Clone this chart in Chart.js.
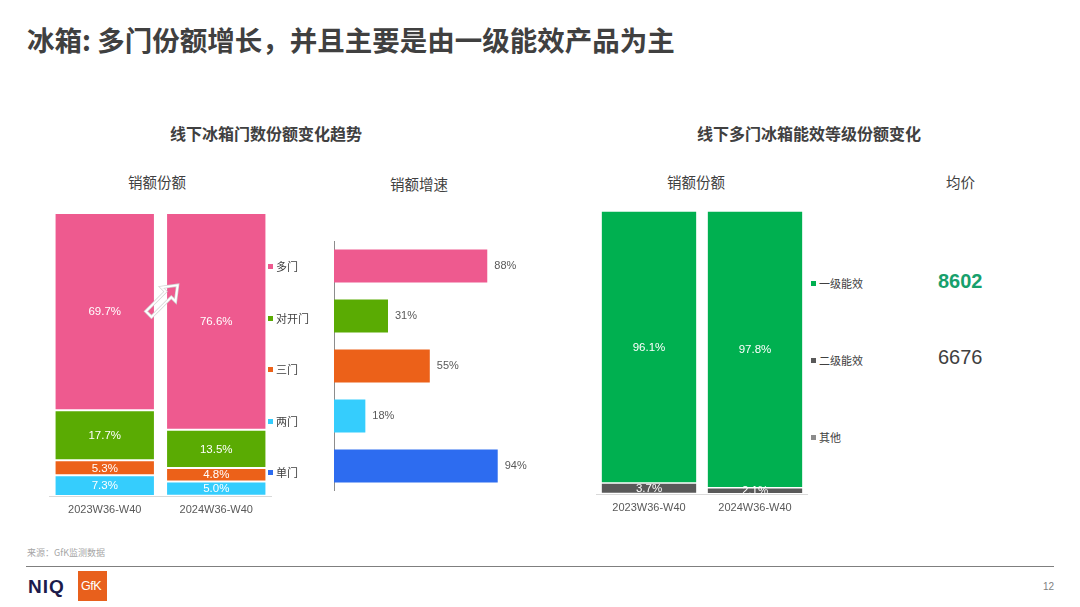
<!DOCTYPE html>
<html><head><meta charset="utf-8">
<script src="https://cdn.jsdelivr.net/npm/chart.js@4/dist/chart.umd.min.js"></script>
<style>
html,body{margin:0;padding:0;background:#fff;}
body{width:1080px;height:607px;position:relative;overflow:hidden;font-family:"Liberation Sans","Noto Sans CJK SC",sans-serif;color:#404040;}
.t{position:absolute;white-space:nowrap;line-height:1;}
.cjk{font-family:"Noto Sans CJK SC","Liberation Sans",sans-serif;}
.box{position:absolute;}
.leg{position:absolute;font-size:11px;line-height:12px;color:#404040;font-family:"Noto Sans CJK SC",sans-serif;white-space:nowrap;}
.leg i{display:inline-block;width:5px;height:5px;margin-right:3px;vertical-align:2px;}
</style></head>
<body>
<div class="t cjk" style="left:27px;top:26px;font-size:27.5px;font-weight:bold;color:#404040;">冰箱: 多门份额增长，并且主要是由一级能效产品为主</div>

<div class="t cjk" style="left:170px;top:125px;font-size:16px;font-weight:bold;color:#404040;">线下冰箱门数份额变化趋势</div>
<div class="t cjk" style="left:128px;top:175px;font-size:14.5px;color:#404040;">销额份额</div>
<div class="t cjk" style="left:390px;top:177px;font-size:14.5px;color:#404040;">销额增速</div>

<div class="t cjk" style="left:697px;top:125px;font-size:16px;font-weight:bold;color:#404040;">线下多门冰箱能效等级份额变化</div>
<div class="t cjk" style="left:667px;top:175px;font-size:14.5px;color:#404040;">销额份额</div>
<div class="t cjk" style="left:946px;top:175px;font-size:14.5px;color:#404040;">均价</div>

<div class="box" style="left:49px;top:213px;width:223px;height:307px;"><canvas id="c1"></canvas></div>
<div class="box" style="left:332px;top:241px;width:211px;height:250px;"><canvas id="c2"></canvas></div>
<div class="box" style="left:596px;top:211px;width:212px;height:307px;"><canvas id="c3"></canvas></div>

<div id="leg1"></div>
<div id="leg3"></div>

<div class="t" style="left:938px;top:271px;font-size:20px;font-weight:bold;color:#17a06c;" id="p1"></div>
<div class="t" style="left:938px;top:347px;font-size:20px;color:#404040;" id="p2"></div>

<div class="t cjk" style="left:27px;top:548px;font-size:9px;color:#a6a6a6;">来源：GfK监测数据</div>
<div class="box" style="left:26px;top:566px;width:1028px;height:1px;background:#7f7f7f;"></div>
<div class="t" style="left:28px;top:577px;font-size:19px;font-weight:900;color:#1c1b4b;letter-spacing:1px;">NIQ</div>
<div class="box" style="left:78px;top:571px;width:29px;height:30px;background:#e8601c;"></div>
<div class="t" style="left:81px;top:580px;font-size:12.5px;color:#fff;letter-spacing:-0.5px;">GfK</div>
<div class="t" style="left:1043px;top:582px;font-size:10px;color:#7f7f7f;">12</div>

<script>
// ---------- data ----------
const periods = ["2023W36-W40", "2024W36-W40"];
const doorTypes = ["多门", "对开门", "三门", "两门", "单门"];
const doorColors = ["#ee5a8f", "#5aab03", "#ec6119", "#35cdfd", "#2d6cf0"];
const shareMulti = [69.7, 76.6];
const shareSideBySide = [17.7, 13.5];
const shareThree = [5.3, 4.8];
const shareTwo = [7.3, 5.0];
const shareSingle = [0.0, 0.1];
const growthRates = [88, 31, 55, 18, 94];

const energyClasses = ["一级能效", "二级能效", "其他"];
const energyColors = ["#00b050", "#595959", "#8c8c8c"];
const shareClass1 = [96.1, 97.8];
const shareClass2 = [3.7, 2.1];
const shareOther = [0.2, 0.1];
const avgPrices = ["8602", "6676"];

document.getElementById('p1').textContent = avgPrices[0];
document.getElementById('p2').textContent = avgPrices[1];

// legends
(function(){
  const l1 = document.getElementById('leg1');
  doorTypes.forEach((n,i)=>{
    const d = document.createElement('div'); d.className='leg';
    d.style.left='268px'; d.style.top=(260 + i*51.5)+'px';
    d.innerHTML = '<i style="background:'+doorColors[i]+'"></i>'+n;
    l1.appendChild(d);
  });
  const l3 = document.getElementById('leg3');
  energyClasses.forEach((n,i)=>{
    const d = document.createElement('div'); d.className='leg';
    d.style.left='811px'; d.style.top=(277 + i*77)+'px';
    d.innerHTML = '<i style="background:'+energyColors[i]+'"></i>'+n;
    l3.appendChild(d);
  });
})();

Chart.defaults.font.family = '"Liberation Sans","Noto Sans CJK SC",sans-serif';
Chart.defaults.animation = false;

const insideLabels = {
  id: 'insideLabels',
  afterDatasetsDraw(chart) {
    const ctx = chart.ctx;
    ctx.save();
    ctx.font = '11.5px "Liberation Sans", sans-serif';
    ctx.fillStyle = '#ffffff';
    ctx.textAlign = 'center';
    ctx.textBaseline = 'middle';
    chart.data.datasets.forEach((ds, di) => {
      const meta = chart.getDatasetMeta(di);
      meta.data.forEach((el, i) => {
        const v = ds.data[i];
        if (v < 1) return;
        const y = (el.y + el.base) / 2;
        ctx.fillText(v.toFixed(1) + '%', el.x, y + 0.5);
      });
    });
    ctx.restore();
  }
};

const arrowPlugin = {
  id: 'arrowDeco',
  afterDatasetsDraw(chart) {
    const m = chart.getDatasetMeta(0).data;
    if (!m.length) return;
    const a = m[0], b = m[1];
    const cx = (a.x + a.width/2 + b.x - b.width/2) / 2 + 3;
    const cy = chart.scales.y.getPixelForValue(69.5);
    const ctx = chart.ctx;
    ctx.save();
    ctx.translate(cx, cy);
    ctx.rotate(-Math.PI / 4);
    ctx.beginPath();
    ctx.moveTo(-21, -4);
    ctx.lineTo(7, -4);
    ctx.lineTo(7, -10);
    ctx.lineTo(20, 0);
    ctx.lineTo(7, 10);
    ctx.lineTo(7, 4);
    ctx.lineTo(-21, 4);
    ctx.closePath();
    ctx.lineJoin = 'miter';
    ctx.strokeStyle = '#d4d4d4';
    ctx.lineWidth = 3.2;
    ctx.stroke();
    ctx.strokeStyle = '#ffffff';
    ctx.lineWidth = 1.8;
    ctx.stroke();
    ctx.restore();
  }
};

function stackBar(label, data, color) {
  return { label, data, backgroundColor: color, borderColor: '#ffffff', borderWidth: 1, borderSkipped: false,
           categoryPercentage: 0.9, barPercentage: 1 };
}

const xTick = { color: '#595959', font: { size: 11 }, padding: 7 };

new Chart(document.getElementById('c1'), {
  type: 'bar',
  data: {
    labels: periods,
    datasets: [
      stackBar(doorTypes[4], shareSingle, doorColors[4]),
      stackBar(doorTypes[3], shareTwo, doorColors[3]),
      stackBar(doorTypes[2], shareThree, doorColors[2]),
      stackBar(doorTypes[1], shareSideBySide, doorColors[1]),
      stackBar(doorTypes[0], shareMulti, doorColors[0])
    ]
  },
  options: {
    responsive: true, maintainAspectRatio: false,
    layout: { padding: 0 },
    plugins: { legend: { display: false }, tooltip: { enabled: false } },
    scales: {
      x: { stacked: true, grid: { display: false, drawTicks: false }, border: { color: '#d9d9d9' }, ticks: xTick,
           afterFit: s => { s.height = 24; } },
      y: { stacked: true, display: false, min: 0, max: 100 }
    }
  },
  plugins: [insideLabels, arrowPlugin]
});

new Chart(document.getElementById('c2'), {
  type: 'bar',
  data: {
    labels: doorTypes,
    datasets: [{ data: growthRates, backgroundColor: doorColors, borderWidth: 0,
                 categoryPercentage: 1, barPercentage: 0.66 }]
  },
  options: {
    indexAxis: 'y',
    responsive: true, maintainAspectRatio: false,
    layout: { padding: { left: 2, right: 0, top: 0, bottom: 0 } },
    plugins: { legend: { display: false }, tooltip: { enabled: false } },
    scales: {
      x: { display: false, min: 0, max: 120 },
      y: { grid: { display: false, drawTicks: false }, ticks: { display: false }, border: { color: '#8c8c8c', width: 1 },
           afterFit: s => { s.width = 0; } }
    }
  },
  plugins: [{
    id: 'endLabels',
    afterDatasetsDraw(chart) {
      const ctx = chart.ctx;
      ctx.save();
      ctx.font = '11px "Liberation Sans", sans-serif';
      ctx.fillStyle = '#595959';
      ctx.textAlign = 'left';
      ctx.textBaseline = 'middle';
      const ds = chart.data.datasets[0];
      chart.getDatasetMeta(0).data.forEach((el, i) => {
        ctx.fillText(ds.data[i] + '%', el.x + 7, el.y - 0.5);
      });
      ctx.restore();
    }
  }]
});

function stackBar3(label, data, color) {
  return { label, data, backgroundColor: color, borderColor: '#ffffff', borderWidth: 0.8, borderSkipped: false,
           categoryPercentage: 0.905, barPercentage: 1 };
}

new Chart(document.getElementById('c3'), {
  type: 'bar',
  data: {
    labels: periods,
    datasets: [
      stackBar3(energyClasses[2], shareOther, energyColors[2]),
      stackBar3(energyClasses[1], shareClass2, energyColors[1]),
      stackBar3(energyClasses[0], shareClass1, energyColors[0])
    ]
  },
  options: {
    responsive: true, maintainAspectRatio: false,
    layout: { padding: 0 },
    plugins: { legend: { display: false }, tooltip: { enabled: false } },
    scales: {
      x: { stacked: true, grid: { display: false, drawTicks: false }, border: { color: '#d9d9d9' }, ticks: xTick,
           afterFit: s => { s.height = 24; } },
      y: { stacked: true, display: false, min: 0, max: 100 }
    }
  },
  plugins: [insideLabels]
});
</script>
</body></html>
